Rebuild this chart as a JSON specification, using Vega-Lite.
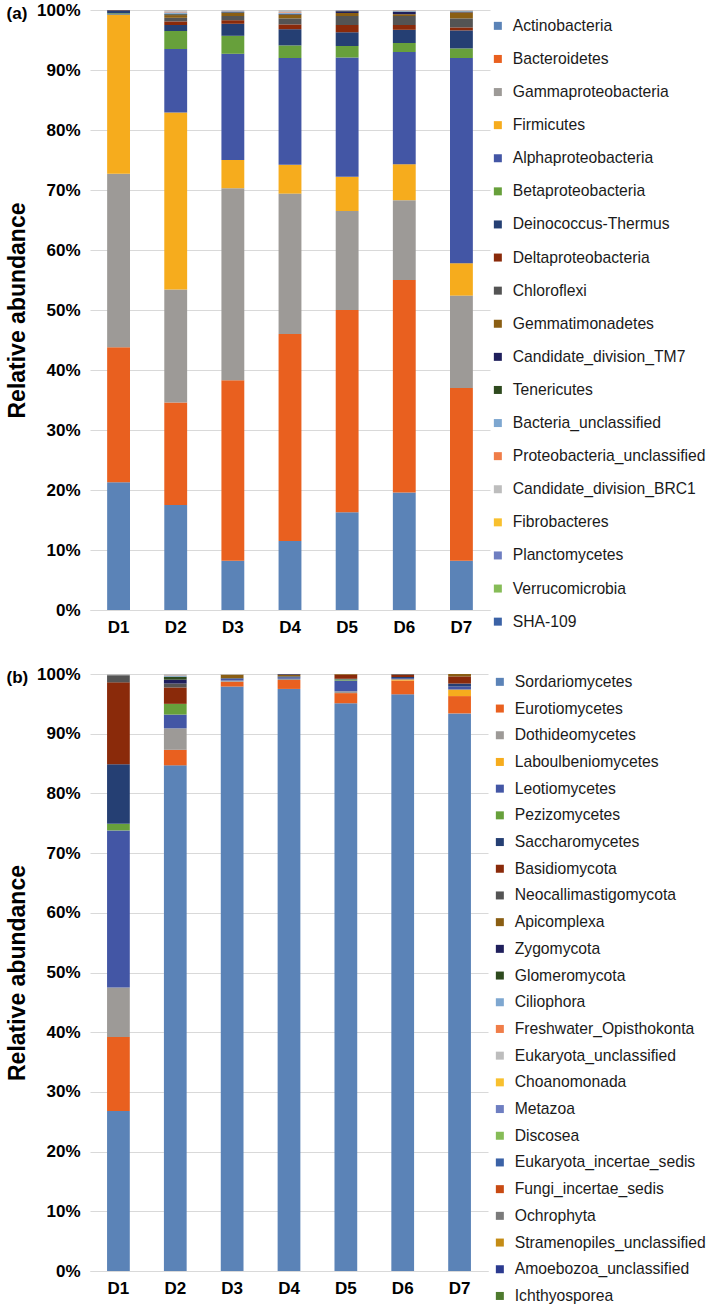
{
  "$schema": "https://vega.github.io/schema/vega-lite/v6.json",
  "padding": {"left": 6, "top": 1, "right": 0, "bottom": 0},
  "background": "white",
  "spacing": 27,
  "config": {
    "font": "Liberation Sans",
    "view": {"stroke": null},
    "title": {"anchor": "start", "frame": "bounds", "fontSize": 17, "fontWeight": "bold", "font": "Liberation Sans", "color": "#000000", "baseline": "middle", "offset": -22},
    "axisX": {"labelFontSize": 17, "labelFontWeight": "bold", "labelColor": "#000000", "labelAngle": 0, "ticks": false, "domainColor": "#D9D9D9", "labelPadding": 9, "title": null, "grid": false},
    "axisY": {"labelFontSize": 17, "labelFontWeight": "bold", "labelColor": "#000000", "ticks": false, "domain": false, "gridColor": "#D9D9D9", "labelPadding": 10, "titleFontSize": 23, "titleFontWeight": "bold", "titleColor": "#000000", "titlePadding": 7},
    "legend": {"title": null, "symbolType": "square", "symbolSize": 64, "symbolStrokeWidth": 0, "labelFontSize": 15.7, "labelColor": "#1a1a1a", "labelFont": "Liberation Sans", "labelOffset": 7, "labelLimit": 400}
  },
  "datasets": {
    "bacTaxa": [
      {"t": "Actinobacteria", "k": 1}, {"t": "Bacteroidetes", "k": 2}, {"t": "Gammaproteobacteria", "k": 3}, {"t": "Firmicutes", "k": 4},
      {"t": "Alphaproteobacteria", "k": 5}, {"t": "Betaproteobacteria", "k": 6}, {"t": "Deinococcus-Thermus", "k": 7}, {"t": "Deltaproteobacteria", "k": 8},
      {"t": "Chloroflexi", "k": 9}, {"t": "Gemmatimonadetes", "k": 10}, {"t": "Candidate_division_TM7", "k": 11}, {"t": "Tenericutes", "k": 12},
      {"t": "Bacteria_unclassified", "k": 13}, {"t": "Proteobacteria_unclassified", "k": 14}, {"t": "Candidate_division_BRC1", "k": 15},
      {"t": "Fibrobacteres", "k": 16}, {"t": "Planctomycetes", "k": 17}, {"t": "Verrucomicrobia", "k": 18}, {"t": "SHA-109", "k": 19}
    ],
    "fungTaxa": [
      {"t": "Sordariomycetes", "k": 1}, {"t": "Eurotiomycetes", "k": 2}, {"t": "Dothideomycetes", "k": 3}, {"t": "Laboulbeniomycetes", "k": 4},
      {"t": "Leotiomycetes", "k": 5}, {"t": "Pezizomycetes", "k": 6}, {"t": "Saccharomycetes", "k": 7}, {"t": "Basidiomycota", "k": 8},
      {"t": "Neocallimastigomycota", "k": 9}, {"t": "Apicomplexa", "k": 10}, {"t": "Zygomycota", "k": 11}, {"t": "Glomeromycota", "k": 12},
      {"t": "Ciliophora", "k": 13}, {"t": "Freshwater_Opisthokonta", "k": 14}, {"t": "Eukaryota_unclassified", "k": 15}, {"t": "Choanomonada", "k": 16},
      {"t": "Metazoa", "k": 17}, {"t": "Discosea", "k": 18}, {"t": "Eukaryota_incertae_sedis", "k": 19}, {"t": "Fungi_incertae_sedis", "k": 20},
      {"t": "Ochrophyta", "k": 21}, {"t": "Stramenopiles_unclassified", "k": 22}, {"t": "Amoebozoa_unclassified", "k": 23}, {"t": "Ichthyosporea", "k": 24}
    ],
    "bac": [
      {"s": "D1", "t": "Actinobacteria", "v": 21.3}, {"s": "D1", "t": "Bacteroidetes", "v": 22.5}, {"s": "D1", "t": "Gammaproteobacteria", "v": 28.9}, {"s": "D1", "t": "Firmicutes", "v": 26.5},
      {"s": "D1", "t": "Alphaproteobacteria", "v": 0.1}, {"s": "D1", "t": "Betaproteobacteria", "v": 0.15}, {"s": "D1", "t": "Deinococcus-Thermus", "v": 0.5}, {"s": "D1", "t": "Deltaproteobacteria", "v": 0.05},

      {"s": "D2", "t": "Actinobacteria", "v": 17.5}, {"s": "D2", "t": "Bacteroidetes", "v": 17.1}, {"s": "D2", "t": "Gammaproteobacteria", "v": 18.8}, {"s": "D2", "t": "Firmicutes", "v": 29.5},
      {"s": "D2", "t": "Alphaproteobacteria", "v": 10.6}, {"s": "D2", "t": "Betaproteobacteria", "v": 3.0}, {"s": "D2", "t": "Deinococcus-Thermus", "v": 1.0}, {"s": "D2", "t": "Deltaproteobacteria", "v": 0.6},
      {"s": "D2", "t": "Chloroflexi", "v": 0.6}, {"s": "D2", "t": "Gemmatimonadetes", "v": 0.45}, {"s": "D2", "t": "Candidate_division_TM7", "v": 0.1}, {"s": "D2", "t": "Tenericutes", "v": 0.1},
      {"s": "D2", "t": "Bacteria_unclassified", "v": 0.25}, {"s": "D2", "t": "Proteobacteria_unclassified", "v": 0.1}, {"s": "D2", "t": "Candidate_division_BRC1", "v": 0.3},

      {"s": "D3", "t": "Actinobacteria", "v": 8.2}, {"s": "D3", "t": "Bacteroidetes", "v": 30.1}, {"s": "D3", "t": "Gammaproteobacteria", "v": 32.0}, {"s": "D3", "t": "Firmicutes", "v": 4.7},
      {"s": "D3", "t": "Alphaproteobacteria", "v": 17.7}, {"s": "D3", "t": "Betaproteobacteria", "v": 3.0}, {"s": "D3", "t": "Deinococcus-Thermus", "v": 2.0}, {"s": "D3", "t": "Deltaproteobacteria", "v": 0.6},
      {"s": "D3", "t": "Chloroflexi", "v": 0.7}, {"s": "D3", "t": "Gemmatimonadetes", "v": 0.5}, {"s": "D3", "t": "Candidate_division_TM7", "v": 0.1}, {"s": "D3", "t": "Tenericutes", "v": 0.05},
      {"s": "D3", "t": "Bacteria_unclassified", "v": 0.15}, {"s": "D3", "t": "Proteobacteria_unclassified", "v": 0.05}, {"s": "D3", "t": "Candidate_division_BRC1", "v": 0.15},

      {"s": "D4", "t": "Actinobacteria", "v": 11.5}, {"s": "D4", "t": "Bacteroidetes", "v": 34.5}, {"s": "D4", "t": "Gammaproteobacteria", "v": 23.4}, {"s": "D4", "t": "Firmicutes", "v": 4.8},
      {"s": "D4", "t": "Alphaproteobacteria", "v": 17.8}, {"s": "D4", "t": "Betaproteobacteria", "v": 2.1}, {"s": "D4", "t": "Deinococcus-Thermus", "v": 2.7}, {"s": "D4", "t": "Deltaproteobacteria", "v": 0.8},
      {"s": "D4", "t": "Chloroflexi", "v": 1.0}, {"s": "D4", "t": "Gemmatimonadetes", "v": 0.6}, {"s": "D4", "t": "Candidate_division_TM7", "v": 0.1}, {"s": "D4", "t": "Tenericutes", "v": 0.05},
      {"s": "D4", "t": "Bacteria_unclassified", "v": 0.2}, {"s": "D4", "t": "Proteobacteria_unclassified", "v": 0.1}, {"s": "D4", "t": "Candidate_division_BRC1", "v": 0.35},

      {"s": "D5", "t": "Actinobacteria", "v": 16.3}, {"s": "D5", "t": "Bacteroidetes", "v": 33.7}, {"s": "D5", "t": "Gammaproteobacteria", "v": 16.5}, {"s": "D5", "t": "Firmicutes", "v": 5.7},
      {"s": "D5", "t": "Alphaproteobacteria", "v": 19.9}, {"s": "D5", "t": "Betaproteobacteria", "v": 1.9}, {"s": "D5", "t": "Deinococcus-Thermus", "v": 2.3}, {"s": "D5", "t": "Deltaproteobacteria", "v": 1.2},
      {"s": "D5", "t": "Chloroflexi", "v": 1.5}, {"s": "D5", "t": "Gemmatimonadetes", "v": 0.5}, {"s": "D5", "t": "Candidate_division_TM7", "v": 0.3}, {"s": "D5", "t": "Tenericutes", "v": 0.05},
      {"s": "D5", "t": "Bacteria_unclassified", "v": 0.1}, {"s": "D5", "t": "Proteobacteria_unclassified", "v": 0.05},

      {"s": "D6", "t": "Actinobacteria", "v": 19.6}, {"s": "D6", "t": "Bacteroidetes", "v": 35.4}, {"s": "D6", "t": "Gammaproteobacteria", "v": 13.3}, {"s": "D6", "t": "Firmicutes", "v": 6.0},
      {"s": "D6", "t": "Alphaproteobacteria", "v": 18.7}, {"s": "D6", "t": "Betaproteobacteria", "v": 1.5}, {"s": "D6", "t": "Deinococcus-Thermus", "v": 2.2}, {"s": "D6", "t": "Deltaproteobacteria", "v": 0.8},
      {"s": "D6", "t": "Chloroflexi", "v": 1.5}, {"s": "D6", "t": "Gemmatimonadetes", "v": 0.3}, {"s": "D6", "t": "Candidate_division_TM7", "v": 0.4}, {"s": "D6", "t": "Tenericutes", "v": 0.05},
      {"s": "D6", "t": "Bacteria_unclassified", "v": 0.15}, {"s": "D6", "t": "Proteobacteria_unclassified", "v": 0.05}, {"s": "D6", "t": "Candidate_division_BRC1", "v": 0.05},

      {"s": "D7", "t": "Actinobacteria", "v": 8.2}, {"s": "D7", "t": "Bacteroidetes", "v": 28.8}, {"s": "D7", "t": "Gammaproteobacteria", "v": 15.4}, {"s": "D7", "t": "Firmicutes", "v": 5.4},
      {"s": "D7", "t": "Alphaproteobacteria", "v": 34.2}, {"s": "D7", "t": "Betaproteobacteria", "v": 1.6}, {"s": "D7", "t": "Deinococcus-Thermus", "v": 3.0}, {"s": "D7", "t": "Deltaproteobacteria", "v": 0.5},
      {"s": "D7", "t": "Chloroflexi", "v": 1.5}, {"s": "D7", "t": "Gemmatimonadetes", "v": 1.0}, {"s": "D7", "t": "Candidate_division_TM7", "v": 0.1}, {"s": "D7", "t": "Tenericutes", "v": 0.05},
      {"s": "D7", "t": "Bacteria_unclassified", "v": 0.1}, {"s": "D7", "t": "Proteobacteria_unclassified", "v": 0.05}, {"s": "D7", "t": "Candidate_division_BRC1", "v": 0.1}
    ],
    "fung": [
      {"s": "D1", "t": "Sordariomycetes", "v": 26.8}, {"s": "D1", "t": "Eurotiomycetes", "v": 12.4}, {"s": "D1", "t": "Dothideomycetes", "v": 8.3}, {"s": "D1", "t": "Leotiomycetes", "v": 26.3},
      {"s": "D1", "t": "Pezizomycetes", "v": 1.1}, {"s": "D1", "t": "Saccharomycetes", "v": 10.0}, {"s": "D1", "t": "Basidiomycota", "v": 13.7}, {"s": "D1", "t": "Neocallimastigomycota", "v": 1.2},
      {"s": "D1", "t": "Eukaryota_unclassified", "v": 0.2},

      {"s": "D2", "t": "Sordariomycetes", "v": 84.7}, {"s": "D2", "t": "Eurotiomycetes", "v": 2.6}, {"s": "D2", "t": "Dothideomycetes", "v": 3.6}, {"s": "D2", "t": "Leotiomycetes", "v": 2.3},
      {"s": "D2", "t": "Pezizomycetes", "v": 1.8}, {"s": "D2", "t": "Basidiomycota", "v": 2.75}, {"s": "D2", "t": "Neocallimastigomycota", "v": 0.65}, {"s": "D2", "t": "Zygomycota", "v": 0.65},
      {"s": "D2", "t": "Glomeromycota", "v": 0.5}, {"s": "D2", "t": "Ciliophora", "v": 0.2}, {"s": "D2", "t": "Freshwater_Opisthokonta", "v": 0.05}, {"s": "D2", "t": "Eukaryota_unclassified", "v": 0.2},

      {"s": "D3", "t": "Sordariomycetes", "v": 97.9}, {"s": "D3", "t": "Eurotiomycetes", "v": 0.8}, {"s": "D3", "t": "Dothideomycetes", "v": 0.2}, {"s": "D3", "t": "Leotiomycetes", "v": 0.3},
      {"s": "D3", "t": "Saccharomycetes", "v": 0.1}, {"s": "D3", "t": "Apicomplexa", "v": 0.6}, {"s": "D3", "t": "Eukaryota_unclassified", "v": 0.1},

      {"s": "D4", "t": "Sordariomycetes", "v": 97.5}, {"s": "D4", "t": "Eurotiomycetes", "v": 1.5}, {"s": "D4", "t": "Dothideomycetes", "v": 0.2}, {"s": "D4", "t": "Leotiomycetes", "v": 0.2},
      {"s": "D4", "t": "Saccharomycetes", "v": 0.2}, {"s": "D4", "t": "Apicomplexa", "v": 0.3}, {"s": "D4", "t": "Zygomycota", "v": 0.1},

      {"s": "D5", "t": "Sordariomycetes", "v": 95.1}, {"s": "D5", "t": "Eurotiomycetes", "v": 1.7}, {"s": "D5", "t": "Dothideomycetes", "v": 0.3}, {"s": "D5", "t": "Leotiomycetes", "v": 1.8},
      {"s": "D5", "t": "Pezizomycetes", "v": 0.2}, {"s": "D5", "t": "Saccharomycetes", "v": 0.1}, {"s": "D5", "t": "Basidiomycota", "v": 0.7}, {"s": "D5", "t": "Apicomplexa", "v": 0.1},

      {"s": "D6", "t": "Sordariomycetes", "v": 96.6}, {"s": "D6", "t": "Eurotiomycetes", "v": 2.3}, {"s": "D6", "t": "Laboulbeniomycetes", "v": 0.2}, {"s": "D6", "t": "Leotiomycetes", "v": 0.2},
      {"s": "D6", "t": "Saccharomycetes", "v": 0.2}, {"s": "D6", "t": "Basidiomycota", "v": 0.4}, {"s": "D6", "t": "Neocallimastigomycota", "v": 0.1},

      {"s": "D7", "t": "Sordariomycetes", "v": 93.4}, {"s": "D7", "t": "Eurotiomycetes", "v": 2.9}, {"s": "D7", "t": "Laboulbeniomycetes", "v": 1.1}, {"s": "D7", "t": "Leotiomycetes", "v": 0.5},
      {"s": "D7", "t": "Saccharomycetes", "v": 0.5}, {"s": "D7", "t": "Basidiomycota", "v": 1.2}, {"s": "D7", "t": "Apicomplexa", "v": 0.4}
    ]
  },
  "vconcat": [
    {
      "title": {"text": "(a)"},
      "width": 400,
      "height": 600,
      "data": {"name": "bac"},
      "transform": [{"lookup": "t", "from": {"data": {"name": "bacTaxa"}, "key": "t", "fields": ["k"]}}],
      "mark": {"type": "bar"},
      "encoding": {
        "x": {"field": "s", "type": "nominal", "scale": {"paddingInner": 0.6, "paddingOuter": 0.3}},
        "y": {"field": "v", "type": "quantitative", "stack": "normalize", "scale": {"domain": [0, 1]},
              "axis": {"title": "Relative abundance", "format": ".0%", "values": [0, 0.1, 0.2, 0.3, 0.4, 0.5, 0.6, 0.7, 0.8, 0.9, 1]}},
        "order": {"field": "k", "type": "quantitative"},
        "color": {"field": "t", "type": "nominal",
          "scale": {
            "domain": ["Actinobacteria", "Bacteroidetes", "Gammaproteobacteria", "Firmicutes", "Alphaproteobacteria", "Betaproteobacteria", "Deinococcus-Thermus", "Deltaproteobacteria", "Chloroflexi", "Gemmatimonadetes", "Candidate_division_TM7", "Tenericutes", "Bacteria_unclassified", "Proteobacteria_unclassified", "Candidate_division_BRC1", "Fibrobacteres", "Planctomycetes", "Verrucomicrobia", "SHA-109"],
            "range": ["#5B83B7", "#E9601F", "#9D9A97", "#F6AC1D", "#4356A5", "#67A03B", "#253F73", "#8A2A0A", "#545454", "#8A5E13", "#1F1F5C", "#2E4A1E", "#7EA7D0", "#F07D48", "#BDBDBD", "#F8C02E", "#6E7EC1", "#86BC57", "#3B62A6"]
          },
          "legend": {"orient": "right", "offset": -8, "padding": 8, "rowPadding": 16.1}
        }
      }
    },
    {
      "title": {"text": "(b)"},
      "width": 398,
      "height": 597,
      "data": {"name": "fung"},
      "transform": [{"lookup": "t", "from": {"data": {"name": "fungTaxa"}, "key": "t", "fields": ["k"]}}],
      "mark": {"type": "bar"},
      "encoding": {
        "x": {"field": "s", "type": "nominal", "scale": {"paddingInner": 0.6, "paddingOuter": 0.3}},
        "y": {"field": "v", "type": "quantitative", "stack": "normalize", "scale": {"domain": [0, 1]},
              "axis": {"title": "Relative abundance", "format": ".0%", "values": [0, 0.1, 0.2, 0.3, 0.4, 0.5, 0.6, 0.7, 0.8, 0.9, 1]}},
        "order": {"field": "k", "type": "quantitative"},
        "color": {"field": "t", "type": "nominal",
          "scale": {
            "domain": ["Sordariomycetes", "Eurotiomycetes", "Dothideomycetes", "Laboulbeniomycetes", "Leotiomycetes", "Pezizomycetes", "Saccharomycetes", "Basidiomycota", "Neocallimastigomycota", "Apicomplexa", "Zygomycota", "Glomeromycota", "Ciliophora", "Freshwater_Opisthokonta", "Eukaryota_unclassified", "Choanomonada", "Metazoa", "Discosea", "Eukaryota_incertae_sedis", "Fungi_incertae_sedis", "Ochrophyta", "Stramenopiles_unclassified", "Amoebozoa_unclassified", "Ichthyosporea"],
            "range": ["#5B83B7", "#E9601F", "#9D9A97", "#F6AC1D", "#4356A5", "#67A03B", "#253F73", "#8A2A0A", "#545454", "#8A5E13", "#1F1F5C", "#2E4A1E", "#7EA7D0", "#F07D48", "#BDBDBD", "#F8C02E", "#6E7EC1", "#86BC57", "#3B62A6", "#C84A12", "#7A7A7A", "#C48C15", "#2B3A8F", "#4E7A2E"]
          },
          "legend": {"orient": "right", "offset": 4, "padding": 0, "rowPadding": 9.7}
        }
      }
    }
  ],
  "resolve": {"scale": {"color": "independent"}}
}
